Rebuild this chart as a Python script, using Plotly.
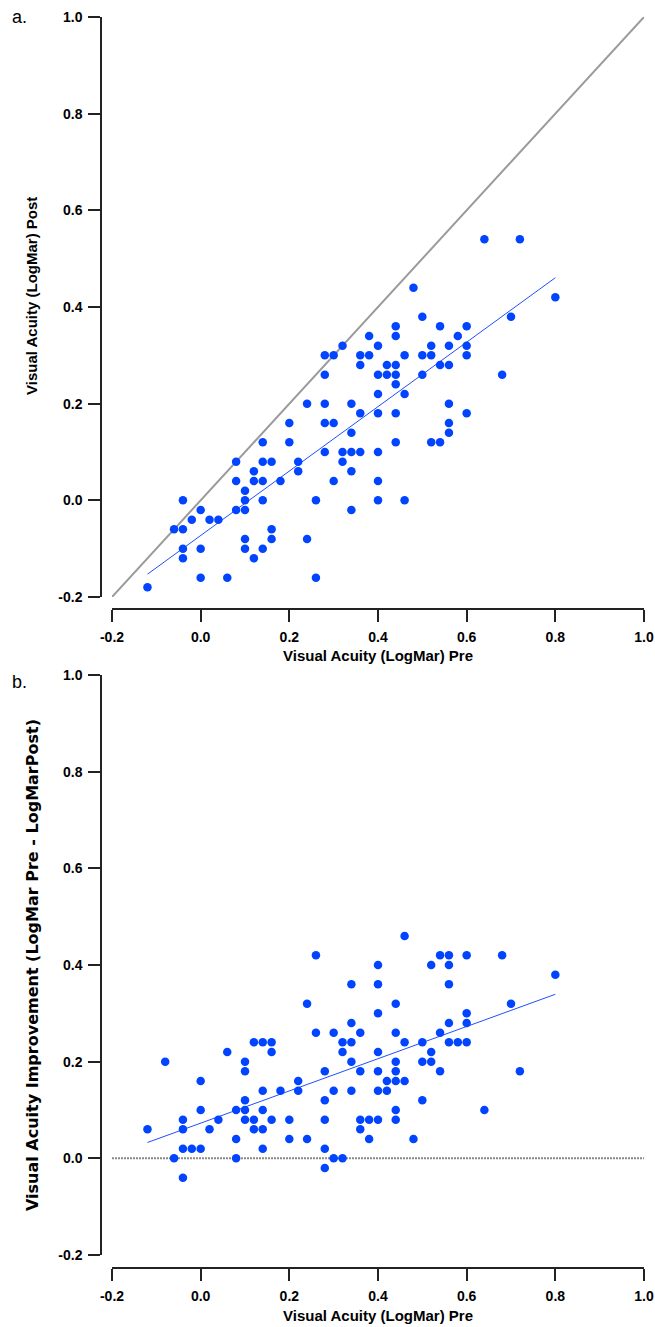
import numpy as np
import plotly.graph_objects as go

# %% data (LogMar)
# panel a: pre vs post.  (-0.08, -0.28) sits below the axis range and is clipped,
# it is the point that shows up in panel b at (-0.08, 0.20)
pre_a = [-0.12, -0.08, -0.06, -0.04, -0.04, -0.04, -0.04, -0.02, 0.00, 0.00, 0.00,
         0.02, 0.04, 0.06, 0.08, 0.08, 0.08, 0.10, 0.10, 0.10, 0.10, 0.10,
         0.12, 0.12, 0.12, 0.14, 0.14, 0.14, 0.14, 0.14, 0.16, 0.16, 0.16,
         0.18, 0.20, 0.20, 0.22, 0.22, 0.24, 0.24, 0.26, 0.26,
         0.28, 0.28, 0.28, 0.28, 0.28, 0.30, 0.30, 0.30, 0.32, 0.32, 0.32,
         0.34, 0.34, 0.34, 0.34, 0.34, 0.36, 0.36, 0.36, 0.36, 0.38, 0.38,
         0.40, 0.40, 0.40, 0.40, 0.40, 0.40, 0.40, 0.42, 0.42,
         0.44, 0.44, 0.44, 0.44, 0.44, 0.44, 0.44, 0.46, 0.46, 0.46, 0.48,
         0.50, 0.50, 0.50, 0.52, 0.52, 0.52, 0.54, 0.54, 0.54,
         0.56, 0.56, 0.56, 0.56, 0.56, 0.58, 0.60, 0.60, 0.60, 0.60,
         0.64, 0.68, 0.70, 0.72, 0.80]
post_a = [-0.18, -0.28, -0.06, 0.00, -0.06, -0.10, -0.12, -0.04, -0.02, -0.10, -0.16,
          -0.04, -0.04, -0.16, 0.08, 0.04, -0.02, 0.02, 0.00, -0.02, -0.08, -0.10,
          0.06, 0.04, -0.12, 0.12, 0.08, 0.04, 0.00, -0.10, 0.08, -0.06, -0.08,
          0.04, 0.16, 0.12, 0.08, 0.06, 0.20, -0.08, 0.00, -0.16,
          0.30, 0.26, 0.20, 0.16, 0.10, 0.30, 0.16, 0.04, 0.32, 0.10, 0.08,
          0.20, 0.14, 0.10, 0.06, -0.02, 0.30, 0.28, 0.18, 0.10, 0.34, 0.30,
          0.32, 0.26, 0.22, 0.18, 0.10, 0.04, 0.00, 0.28, 0.26,
          0.36, 0.34, 0.28, 0.26, 0.24, 0.18, 0.12, 0.30, 0.22, 0.00, 0.44,
          0.38, 0.30, 0.26, 0.32, 0.30, 0.12, 0.36, 0.28, 0.12,
          0.32, 0.28, 0.20, 0.16, 0.14, 0.34, 0.36, 0.32, 0.30, 0.18,
          0.54, 0.26, 0.38, 0.54, 0.42]

# panel b: pre vs improvement (pre - post)
pre_b = [-0.12, -0.08, -0.06, -0.04, -0.04, -0.04, -0.04, -0.02, 0.00, 0.00, 0.00,
         0.02, 0.04, 0.06, 0.08, 0.08, 0.08, 0.10, 0.10, 0.10, 0.10, 0.10,
         0.12, 0.12, 0.12, 0.14, 0.14, 0.14, 0.14, 0.14, 0.16, 0.16, 0.16,
         0.18, 0.20, 0.20, 0.22, 0.22, 0.24, 0.24, 0.26, 0.26,
         0.28, 0.28, 0.28, 0.28, 0.28, 0.30, 0.30, 0.30, 0.32, 0.32, 0.32,
         0.34, 0.34, 0.34, 0.34, 0.34, 0.36, 0.36, 0.36, 0.36, 0.38, 0.38,
         0.40, 0.40, 0.40, 0.40, 0.40, 0.40, 0.40, 0.42, 0.42,
         0.44, 0.44, 0.44, 0.44, 0.44, 0.44, 0.44, 0.46, 0.46, 0.46, 0.48,
         0.50, 0.50, 0.50, 0.52, 0.52, 0.52, 0.54, 0.54, 0.54,
         0.56, 0.56, 0.56, 0.56, 0.56, 0.58, 0.60, 0.60, 0.60, 0.60,
         0.64, 0.68, 0.70, 0.72, 0.80]
gain_b = [0.06, 0.20, 0.00, -0.04, 0.02, 0.06, 0.08, 0.02, 0.02, 0.10, 0.16,
          0.06, 0.08, 0.22, 0.00, 0.04, 0.10, 0.08, 0.10, 0.12, 0.18, 0.20,
          0.06, 0.08, 0.24, 0.02, 0.06, 0.10, 0.14, 0.24, 0.08, 0.22, 0.24,
          0.14, 0.04, 0.08, 0.14, 0.16, 0.04, 0.32, 0.26, 0.42,
          -0.02, 0.02, 0.08, 0.12, 0.18, 0.00, 0.14, 0.26, 0.00, 0.22, 0.24,
          0.14, 0.20, 0.24, 0.28, 0.36, 0.06, 0.08, 0.18, 0.26, 0.04, 0.08,
          0.08, 0.14, 0.18, 0.22, 0.30, 0.36, 0.40, 0.14, 0.16,
          0.08, 0.10, 0.16, 0.18, 0.20, 0.26, 0.32, 0.16, 0.24, 0.46, 0.04,
          0.12, 0.20, 0.24, 0.20, 0.22, 0.40, 0.18, 0.26, 0.42,
          0.24, 0.28, 0.36, 0.40, 0.42, 0.24, 0.24, 0.28, 0.30, 0.42,
          0.10, 0.42, 0.32, 0.18, 0.38]

ticks = [-0.2, 0.0, 0.2, 0.4, 0.6, 0.8, 1.0]
tick_text = ["-0.2", "0.0", "0.2", "0.4", "0.6", "0.8", "1.0"]
ref_a = [-0.2, 1.0]   # identity line
ref_b = [0.0, 0.0]    # no-change line

#%%
W, H = 655, 1327
dot = "#0044ff"
fnt = "Liberation Sans, Arial, Helvetica, sans-serif"


def fit_line(x, y):
    k, b = np.polyfit(x, y, 1)
    xs = np.array([min(x), max(x)])
    return xs, k * xs + b


fig = go.Figure()

# panel a
fig.add_trace(go.Scatter(x=ref_a, y=ref_a, mode="lines",
                         line=dict(color="#9b9b9b", width=2), xaxis="x", yaxis="y"))
fx, fy = fit_line(pre_a, post_a)
fig.add_trace(go.Scatter(x=fx, y=fy, mode="lines",
                         line=dict(color="#1f4fff", width=1), xaxis="x", yaxis="y"))
fig.add_trace(go.Scatter(x=pre_a, y=post_a, mode="markers",
                         marker=dict(color=dot, size=8.5, line=dict(width=0)),
                         xaxis="x", yaxis="y"))

# panel b
fig.add_trace(go.Scatter(x=ref_a, y=ref_b, mode="lines",
                         line=dict(color="#8a8a8a", width=2, dash="2px,1px"),
                         xaxis="x2", yaxis="y2"))
fx, fy = fit_line(pre_b, gain_b)
fig.add_trace(go.Scatter(x=fx, y=fy, mode="lines",
                         line=dict(color="#1f4fff", width=1), xaxis="x2", yaxis="y2"))
fig.add_trace(go.Scatter(x=pre_b, y=gain_b, mode="markers",
                         marker=dict(color=dot, size=8.5, line=dict(width=0)),
                         xaxis="x2", yaxis="y2"))

axis_style = dict(range=[-0.2, 1.0], tickvals=ticks, ticktext=tick_text,
                  showgrid=False, zeroline=False, showline=True, automargin=False,
                  linecolor="#222", linewidth=1.5, ticks="outside", ticklen=12,
                  tickwidth=1.5, tickcolor="#222", ticklabelstandoff=3,
                  tickfont=dict(family=fnt, size=14, color="black", weight="bold"))

x_dom = [112 / W, 644 / W]
ya_dom = [1 - 597 / H, 1 - 17 / H]
yb_dom = [1 - 1255 / H, 1 - 675 / H]
y_pos = 101 / W

fig.update_layout(
    width=W, height=H,
    margin=dict(l=0, r=0, t=0, b=0, autoexpand=False),
    paper_bgcolor="white", plot_bgcolor="white",
    showlegend=False,
    xaxis=dict(domain=x_dom, anchor="free", position=1 - 609 / H, **axis_style),
    yaxis=dict(domain=ya_dom, anchor="free", position=y_pos, **axis_style),
    xaxis2=dict(domain=x_dom, anchor="free", position=1 - 1268 / H, **axis_style),
    yaxis2=dict(domain=yb_dom, anchor="free", position=y_pos, **axis_style),
)

title_font = dict(family=fnt, size=15, color="black", weight="bold")
xc = (112 + 644) / 2 / W
notes = [
    dict(text="a.", x=10 / W, y=1 - 17 / H, xanchor="left", yanchor="middle",
         font=dict(family=fnt, size=18, color="black")),
    dict(text="b.", x=10 / W, y=1 - 682 / H, xanchor="left", yanchor="middle",
         font=dict(family=fnt, size=18, color="black")),
    dict(text="Visual Acuity (LogMar) Post", x=32 / W, y=1 - 296 / H, textangle=-90,
         xanchor="center", yanchor="middle", font=title_font),
    dict(text="Visual Acuity (LogMar) Pre", x=xc, y=1 - 655 / H,
         xanchor="center", yanchor="middle", font=title_font),
    dict(text="Visual Acuity Improvement (LogMar Pre - LogMarPost)", x=32 / W, y=1 - 965 / H,
         textangle=-90, xanchor="center", yanchor="middle",
         font=dict(family="DejaVu Sans", size=16, color="black", weight="bold")),
    dict(text="Visual Acuity (LogMar) Pre", x=xc, y=1 - 1315 / H,
         xanchor="center", yanchor="middle", font=title_font),
]
for n in notes:
    fig.add_annotation(xref="paper", yref="paper", showarrow=False, **n)

# page body has an 8px default margin, drop it so the figure sits at 0,0
fig.write_html("out.html", config={"displayModeBar": False},
               post_script="document.body.style.margin='0';")
